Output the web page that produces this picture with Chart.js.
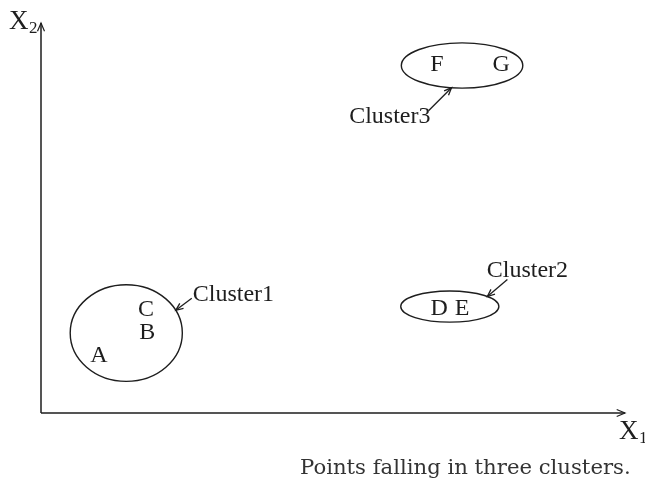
<!DOCTYPE html>
<html lang="en">
<head>
  <meta charset="UTF-8">
  <title>Points falling in three clusters</title>
  <script src="https://cdn.jsdelivr.net/npm/chart.js"></script>
  <style>
    html, body { margin: 0; padding: 0; background: #fff; }
    #wrap { width: 645px; height: 496px; position: relative; }
  </style>
</head>
<body>
<div id="wrap"><canvas id="clusters"></canvas></div>

<script>
  // points
  const pointNames = ['A', 'B', 'C', 'D', 'E', 'F', 'G'];
  const x1Values = [9.9, 18.2, 18.0, 68.2, 72.1, 67.8, 78.8];
  const x2Values = [14.9, 20.8, 26.7, 26.9, 26.9, 89.5, 89.5];

  // clusters (ellipse centre and half-axes in data units)
  const clusterNames = ['Cluster1', 'Cluster2', 'Cluster3'];
  const clusterX1 = [14.6, 70.0, 72.1];
  const clusterX2 = [20.5, 27.3, 89.1];
  const clusterRx = [9.6, 8.4, 10.4];
  const clusterRy = [12.4, 4.0, 5.8];

  const caption = 'Points falling in three clusters.';

  // where each annotation arrow meets its ellipse, and where its tail and label go (px)
  const notes = [
    { angle: -28, tail: [16, -12], label: [1, -4], align: 'left' },
    { angle: -40, tail: [20, -17], label: [20, -9], align: 'center' },
    { angle: 100, tail: [-23, 23], label: [2, 6], align: 'right' }
  ];

  const ink = '#1e1e1e';
  const serif = '"Liberation Serif", "Times New Roman", serif';

  function arrowHead(ctx, x0, y0, x1, y1, size) {
    const a = Math.atan2(y1 - y0, x1 - x0);
    ctx.beginPath();
    ctx.moveTo(x1 - size * Math.cos(a - 0.4), y1 - size * Math.sin(a - 0.4));
    ctx.lineTo(x1, y1);
    ctx.lineTo(x1 - size * Math.cos(a + 0.4), y1 - size * Math.sin(a + 0.4));
    ctx.stroke();
  }

  const drawing = {
    id: 'drawing',
    afterDatasetsDraw(chart) {
      const { ctx, scales: { x, y } } = chart;
      ctx.save();
      ctx.strokeStyle = ink;
      ctx.fillStyle = ink;
      ctx.lineWidth = 1.5;

      // axes
      const ox = x.getPixelForValue(0), oy = y.getPixelForValue(0);
      const xEnd = x.getPixelForValue(100), yEnd = y.getPixelForValue(100);
      ctx.beginPath();
      ctx.moveTo(ox, oy); ctx.lineTo(xEnd, oy);
      ctx.moveTo(ox, oy); ctx.lineTo(ox, yEnd);
      ctx.stroke();
      ctx.lineWidth = 1.2;
      arrowHead(ctx, ox, oy, xEnd, oy, 9);
      arrowHead(ctx, ox, oy, ox, yEnd, 9);

      // axis names
      ctx.textBaseline = 'middle';
      ctx.textAlign = 'left';
      ctx.font = '27px ' + serif;
      ctx.fillText('X', ox - 32, yEnd - 1);
      ctx.fillText('X', xEnd - 6, oy + 19);
      ctx.font = '17px ' + serif;
      ctx.fillText('2', ox - 12, yEnd + 6);
      ctx.fillText('1', xEnd + 14, oy + 26);

      // point letters
      ctx.font = '24px ' + serif;
      ctx.textAlign = 'center';
      const meta = chart.getDatasetMeta(0);
      meta.data.forEach((el, i) => ctx.fillText(pointNames[i], el.x, el.y + 1));

      // cluster ellipses with arrows and names
      clusterNames.forEach((name, i) => {
        const cx = x.getPixelForValue(clusterX1[i]);
        const cy = y.getPixelForValue(clusterX2[i]);
        const rx = x.getPixelForValue(clusterX1[i] + clusterRx[i]) - cx;
        const ry = cy - y.getPixelForValue(clusterX2[i] + clusterRy[i]);
        ctx.lineWidth = 1.4;
        ctx.beginPath();
        ctx.ellipse(cx, cy, rx, ry, 0, 0, Math.PI * 2);
        ctx.stroke();

        const n = notes[i];
        const t = n.angle * Math.PI / 180;
        const tipX = cx + rx * Math.cos(t), tipY = cy + ry * Math.sin(t);
        const tailX = tipX + n.tail[0], tailY = tipY + n.tail[1];
        ctx.lineWidth = 1.3;
        ctx.beginPath();
        ctx.moveTo(tailX, tailY); ctx.lineTo(tipX, tipY);
        ctx.stroke();
        arrowHead(ctx, tailX, tailY, tipX, tipY, 8);

        ctx.font = '24px ' + serif;
        ctx.textAlign = n.align;
        ctx.fillText(name, tailX + n.label[0], tailY + n.label[1]);
      });

      // caption
      ctx.font = '21.2px "DejaVu Serif", serif';
      ctx.textAlign = 'left';
      ctx.fillStyle = '#333';
      ctx.fillText(caption, 300, 468);
      ctx.restore();
    }
  };

  new Chart(document.getElementById('clusters'), {
    type: 'scatter',
    data: {
      datasets: [{
        label: 'points',
        data: pointNames.map((p, i) => ({ x: x1Values[i], y: x2Values[i] })),
        pointRadius: 0,
        pointHoverRadius: 0
      }]
    },
    options: {
      responsive: true,
      maintainAspectRatio: false,
      animation: false,
      layout: { padding: { left: 41, right: 20, top: 23, bottom: 83 } },
      plugins: { legend: { display: false }, tooltip: { enabled: false } },
      scales: {
        x: { type: 'linear', min: 0, max: 100, display: false },
        y: { type: 'linear', min: 0, max: 100, display: false }
      }
    },
    plugins: [drawing]
  });
</script>
</body>
</html>
